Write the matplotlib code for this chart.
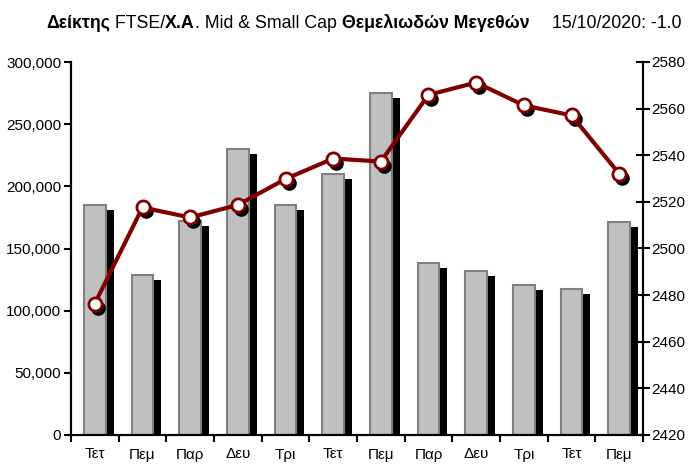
import matplotlib
matplotlib.use("Agg")
import matplotlib.pyplot as plt
import matplotlib.transforms as mtransforms
from matplotlib.ticker import FuncFormatter, MultipleLocator
import numpy as np

days = ["Τετ", "Πεμ", "Παρ", "Δευ", "Τρι", "Τετ", "Πεμ", "Παρ", "Δευ", "Τρι", "Τετ", "Πεμ"]
volume = [185000, 129000, 172000, 230000, 185000, 210000, 275000, 138000, 132000, 121000, 117500, 171000]
index_close = [2476.4, 2517.6, 2513.3, 2518.7, 2529.8, 2538.6, 2537.3, 2565.9, 2571.2, 2561.4, 2557.1, 2532.1]

BAR, BAR_EDGE, LINE = "#C0C0C0", "#808080", "#800000"
FONT = ["Liberation Sans", "DejaVu Sans"]
plt.rcParams["font.family"] = FONT

fig = plt.figure(figsize=(6.92, 4.67), dpi=100)
W, H = 692, 467
x0, x1, y0, y1 = 71, 643, 62, 435
ax = fig.add_axes([x0 / W, 1 - y1 / H, (x1 - x0) / W, (y1 - y0) / H])
ax2 = ax.twinx()

x = np.arange(len(days))
px = fig.dpi_scale_trans

# bars with black drop shadow
shadow = ax.bar(x, volume, width=0.45, color="black", zorder=1)
for p in shadow:
    p.set_transform(ax.transData + mtransforms.ScaledTranslation(8 / 100, -5 / 100, px))
ax.bar(x, volume, width=0.45, color=BAR, edgecolor=BAR_EDGE, linewidth=1.5, zorder=2)

# index line with shadowed markers
ax2.plot(x, index_close, "o", ms=9.5, color="black", ls="none", zorder=3,
         transform=ax2.transData + mtransforms.ScaledTranslation(3 / 100, -4 / 100, px))
ax2.plot(x, index_close, "-o", color=LINE, lw=3, ms=9.5, mfc="white", mec=LINE, mew=2, zorder=4)

ax.set_xlim(-0.5, len(days) - 0.5)
ax.set_ylim(0, 300000)
ax2.set_ylim(2420, 2580)
ax.yaxis.set_major_locator(MultipleLocator(50000))
ax.yaxis.set_major_formatter(FuncFormatter(lambda v, _: f"{v:,.0f}"))
ax2.yaxis.set_major_locator(MultipleLocator(20))

ax.set_xticks(np.arange(-0.5, len(days), 1.0))
ax.set_xticklabels([])
ax.set_xticks(x, minor=True)
ax.set_xticklabels(days, minor=True)
ax.tick_params(axis="x", which="major", direction="out", length=5, width=1.5)
ax.tick_params(axis="x", which="minor", length=0, pad=9, labelsize=11)
ax.tick_params(axis="y", direction="out", length=5, width=1.5, labelsize=11, pad=2)
ax2.tick_params(axis="y", direction="inout", length=10, width=1.5, labelsize=11, pad=1)

for a in (ax, ax2):
    a.spines["top"].set_visible(False)
    for s in ("left", "right", "bottom"):
        a.spines[s].set_linewidth(1.5)

# title built from bold / regular pieces, chained left to right
pieces = [("Δείκτης", "bold"), (" FTSE/", "normal"), ("Χ.Α", "bold"),
          (". Mid & Small Cap ", "normal"), ("Θεμελιωδών Μεγεθών", "bold")]
prev = fig.text(46 / W, 1 - 28 / H, pieces[0][0], fontweight=pieces[0][1],
                fontsize=12.8, va="baseline")
for txt, wt in pieces[1:]:
    prev = ax.annotate(txt, xy=(1, 0), xycoords=prev, va="bottom", ha="left",
                       fontweight=wt, fontsize=12.8, annotation_clip=False)
fig.text(681 / W, 1 - 28 / H, "15/10/2020: -1.0", fontsize=12.8,
         ha="right", va="baseline")

fig.savefig("out.png", dpi=100)
